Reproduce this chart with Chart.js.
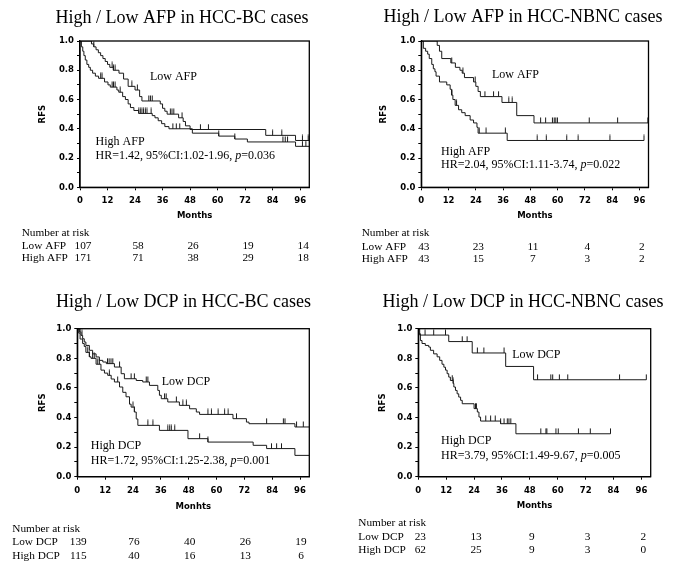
<!DOCTYPE html>
<html><head><meta charset="utf-8">
<script src="https://cdn.jsdelivr.net/npm/chart.js@4/dist/chart.umd.min.js"></script>
<style>
html,body{margin:0;padding:0;background:#fff;}
#wrap{position:relative;width:677px;height:567px;overflow:hidden;}
canvas{position:absolute;left:0;top:0;}
</style></head><body>
<div id="wrap">
<canvas id="c1" width="677" height="567"></canvas>
<canvas id="c2" width="677" height="567"></canvas>
<canvas id="c3" width="677" height="567"></canvas>
<canvas id="c4" width="677" height="567"></canvas>
</div>
<script>
// ---------- tick labels ----------
const monthTicks = [0,12,24,36,48,60,72,84,96];
const rfsTicks = [0,0.1,0.2,0.3,0.4,0.5,0.6,0.7,0.8,0.9,1.0];
const rfsLabels = ['0.0','','0.2','','0.4','','0.6','','0.8','','1.0'];
const riskMonths = [0,24,48,72,96];

// ---------- Panel 1: AFP, HCC-BC ----------
const afpBcLow = [[0,1],[5,0.98],[6,0.96],[7,0.94],[8,0.92],[9,0.90],[10,0.88],[11,0.86],[12,0.84],[13,0.82],[14.5,0.80],[17,0.78],[19,0.74],[21,0.69],[24,0.665],[26,0.62],[27,0.59],[35,0.57],[36,0.54],[37,0.52],[38,0.50],[43,0.475],[45,0.45],[46,0.42],[48,0.395],[81,0.355],[94,0.32],[100,0.32]];
const afpBcLowCens = [6,14,14.6,15.3,22.6,25,30,30.7,31.5,39.4,40.1,40.9,44.5,52.5,56,84,88,97,99.5];
const afpBcHigh = [[0,1],[0.6,0.96],[1.2,0.93],[1.7,0.90],[2.3,0.87],[3,0.84],[3.8,0.82],[4.5,0.80],[5.5,0.78],[6.7,0.76],[8.1,0.745],[10.7,0.72],[12.2,0.70],[13.2,0.685],[16.1,0.665],[16.9,0.65],[18.6,0.62],[19.8,0.60],[21,0.57],[22,0.545],[23.5,0.525],[25.6,0.505],[31.5,0.49],[32.7,0.475],[34.1,0.455],[35.6,0.435],[37,0.415],[38.8,0.40],[49,0.37],[60.5,0.35],[67.5,0.33],[73,0.31],[94,0.28],[100,0.28]];
const afpBcHighCens = [9,9.6,14,14.6,15.3,17.5,25.6,26.3,27,27.7,28.5,29.2,31,40.5,42,43.5,60.5,67.5,88.5,89.5,90.5,97,98.5];
const afpBcLowRisk = [107,58,26,19,14];
const afpBcHighRisk = [171,71,38,29,18];

// ---------- Panel 2: AFP, HCC-NBNC ----------
const afpNbLow = [[0,1],[7,0.97],[8,0.93],[9,0.88],[13,0.85],[15,0.82],[17,0.80],[18,0.78],[19,0.75],[23,0.72],[24,0.69],[25,0.655],[26,0.62],[35.5,0.58],[42,0.49],[49.6,0.44],[100,0.44]];
const afpNbLowCens = [13.4,18.3,23.7,28,31.8,34,38.5,40,52.5,54.7,57.7,58.5,59.2,59.9,73.9,86.4,99.7];
const afpNbHigh = [[0,1],[0.9,0.95],[1.9,0.93],[2.8,0.91],[3.5,0.88],[4.6,0.84],[5.3,0.81],[6,0.79],[6.5,0.76],[8,0.72],[11.2,0.70],[12.7,0.67],[13.3,0.63],[13.9,0.60],[14.9,0.56],[16.4,0.53],[17.8,0.51],[19.3,0.49],[21.5,0.46],[23,0.44],[24.5,0.41],[25,0.37],[37.8,0.32],[98,0.32]];
const afpNbHighCens = [13.5,15.5,25.5,28.5,37,51,55,64,69,83,98];
const afpNbLowRisk = [43,23,11,4,2];
const afpNbHighRisk = [43,15,7,3,2];

// ---------- Panel 3: DCP, HCC-BC ----------
const dcpBcLow = [[0,1],[0.9,0.977],[1.6,0.955],[2.3,0.932],[3,0.91],[3.7,0.887],[5.2,0.854],[6.6,0.83],[8.1,0.809],[9.5,0.786],[11,0.775],[12.5,0.764],[16,0.741],[18.9,0.696],[20.3,0.662],[25.4,0.65],[28.2,0.64],[31.1,0.617],[34.7,0.583],[35.4,0.55],[36.2,0.527],[39,0.505],[44,0.482],[48.4,0.459],[51.3,0.437],[52.7,0.421],[67.1,0.392],[72.9,0.369],[74,0.358],[93.8,0.336],[100,0.336]];
const dcpBcLowCens = [0.5,1.2,2,13,13.7,14.5,15.3,18.2,23.2,24.6,29.7,30.4,37.6,38.3,42.7,45.5,47,56.3,57.8,60.7,63.5,65,68.6,81.6,88.8,89.5,94.5,97.4];
const dcpBcHigh = [[0,1],[0.6,0.97],[1.2,0.93],[2.3,0.90],[3,0.88],[3.7,0.84],[5.2,0.81],[5.9,0.80],[8.1,0.76],[10.2,0.72],[11.7,0.70],[13.1,0.685],[14.6,0.66],[16,0.64],[18.2,0.606],[19.6,0.57],[21,0.54],[22.5,0.49],[23.2,0.47],[24.6,0.437],[25.4,0.39],[26.1,0.347],[35.4,0.313],[47.7,0.257],[56.3,0.234],[75.8,0.212],[81.6,0.19],[93.8,0.144],[100,0.144]];
const dcpBcHighCens = [4.5,5.2,6.6,7.3,8.8,9.5,13.8,17.4,24,24.6,30.4,32.6,39,39.8,40.5,42,52.7,56.3,83.7,85.9,88];
const dcpBcLowRisk = [139,76,40,26,19];
const dcpBcHighRisk = [115,40,16,13,6];

// ---------- Panel 4: DCP, HCC-NBNC ----------
const dcpNbLow = [[0,1],[0.6,0.957],[13.1,0.913],[23.2,0.836],[37.6,0.745],[49.6,0.655],[98.1,0.655]];
const dcpNbLowCens = [2.9,6.6,11.7,18.9,21,25.4,28.2,36.9,51.3,57,57.8,60.7,64.3,86.6,98.1];
const dcpNbHigh = [[0,1],[0.3,0.966],[0.9,0.92],[1.6,0.90],[3,0.887],[4.5,0.876],[5.2,0.854],[6.6,0.83],[8.1,0.81],[9.2,0.786],[10.2,0.76],[11,0.74],[11.7,0.72],[12.4,0.696],[13.1,0.673],[13.8,0.65],[15,0.63],[15.3,0.606],[16,0.583],[16.7,0.56],[17.4,0.538],[18.2,0.516],[18.9,0.493],[24,0.46],[25.4,0.437],[26.1,0.403],[26.8,0.376],[35.4,0.358],[42,0.29],[82.7,0.29]];
const dcpNbHighCens = [14.6,15,24.6,25,29,31.1,33.1,35.4,36.9,38.3,39,39.8,52.7,54.9,55.3,59.2,60.2,68.9,74,82.7];
const dcpNbLowRisk = [23,13,9,3,2];
const dcpNbHighRisk = [62,25,9,3,0];

// ---------- texts ----------
const titles = ['High / Low AFP in HCC-BC cases','High / Low AFP in HCC-NBNC cases','High / Low DCP in HCC-BC cases','High / Low DCP in HCC-NBNC cases'];
const xTitles = ['Months','Months','Monhts','Months'];
const hrTexts = [['HR=1.42, 95%CI:1.02-1.96, ','=0.036'],['HR=2.04, 95%CI:1.11-3.74, ','=0.022'],['HR=1.72, 95%CI:1.25-2.38, ','=0.001'],['HR=3.79, 95%CI:1.49-9.67, ','=0.005']];

// ---------- helpers ----------
function survAt(steps, t){ let v = steps[0][1]; for (const [x,y] of steps){ if (x <= t + 1e-9) v = y; else break; } return v; }
function censorMark(){ const c=document.createElement('canvas'); c.width=3; c.height=12; const g=c.getContext('2d'); g.strokeStyle='#1a1a1a'; g.lineWidth=1; g.beginPath(); g.moveTo(1.5,0.5); g.lineTo(1.5,6); g.stroke(); return c; }
const mark = censorMark();
const axisFont = {family:'"DejaVu Sans"', size:8.5, weight:'bold', lineHeight:1.2};
const SERIF = '"Liberation Serif", "Times New Roman", serif';

const framePlugin = {id:'frame', afterDatasetsDraw(chart){ const a=chart.chartArea, c=chart.ctx; c.save(); c.strokeStyle='#000'; c.lineWidth=1.3; c.strokeRect(a.left,a.top,a.right-a.left,a.bottom-a.top); c.restore(); }};

function textPlugin(p){ return {id:'texts', afterDraw(chart){
  const c=chart.ctx, xs=chart.scales.x, ys=chart.scales.y;
  c.save(); c.fillStyle='#000'; c.textBaseline='middle';
  c.font='18px '+SERIF; c.textAlign='center'; c.fillText(p.title, p.titlePos[0], p.titlePos[1]);
  c.font='12px '+SERIF; c.textAlign='left';
  p.labels.forEach(l=>c.fillText(l.text, xs.getPixelForValue(l.t), ys.getPixelForValue(l.s)));
  let x=xs.getPixelForValue(p.hr.t), y=ys.getPixelForValue(p.hr.s);
  c.fillText(p.hr.a,x,y); x+=c.measureText(p.hr.a).width;
  c.font='italic 12px '+SERIF; c.fillText('p',x,y); x+=c.measureText('p').width;
  c.font='12px '+SERIF; c.fillText(p.hr.b,x,y);
  c.font='11.3px '+SERIF; c.textAlign='left';
  c.fillText('Number at risk', p.risk.x, p.risk.y0);
  p.risk.rows.forEach((r,i)=>{
    c.textAlign='left'; c.fillText(r.name, p.risk.x, p.risk.ys[i]);
    c.textAlign='center';
    r.vals.forEach((v,j)=>c.fillText(String(v), xs.getPixelForValue(riskMonths[j])+p.risk.dx, p.risk.ys[i]));
  });
  c.restore();
}}; }

function buildPanel(id, p){
  const datasets=[];
  p.curves.forEach(cv=>{
    datasets.push({type:'line', data:cv.steps.map(([x,y])=>({x,y})), stepped:true, borderColor:'#1a1a1a', borderWidth:1, pointRadius:0, fill:false, order:1});
    datasets.push({type:'scatter', data:cv.cens.map(t=>({x:t,y:survAt(cv.steps,t)})), pointStyle:mark, pointRadius:3, showLine:false, order:0});
  });
  new Chart(document.getElementById(id), {
    type:'scatter',
    data:{datasets},
    options:{
      responsive:false, animation:false, events:[], devicePixelRatio:1,
      layout:{padding:{left:p.box.left-p.yw, right:677-p.box.right, top:p.box.top, bottom:567-p.box.bottom-p.xh}},
      plugins:{legend:{display:false}, tooltip:{enabled:false}, title:{display:false}},
      scales:{
        x:{type:'linear', position:'bottom', min:0, max:100,
          afterFit(s){ s.height=p.xh; },
          afterBuildTicks(s){ s.ticks=monthTicks.map(v=>({value:v})); },
          ticks:{font:axisFont, color:'#000', padding:5.5, autoSkip:false, maxRotation:0, callback:(v)=>String(v)},
          grid:{drawOnChartArea:false, drawTicks:true, tickLength:3, color:'#000'},
          border:{display:true, color:'#000', width:1.3},
          title:{display:true, text:p.xTitle, font:axisFont, color:'#000', padding:0}},
        y:{type:'linear', position:'left', min:0, max:1,
          afterFit(s){ s.width=p.yw; },
          afterBuildTicks(s){ s.ticks=rfsTicks.map(v=>({value:v})); },
          ticks:{font:axisFont, color:'#000', padding:3, autoSkip:false, callback:(v,i)=>rfsLabels[i]},
          grid:{drawOnChartArea:false, drawTicks:true, tickLength:3, color:'#000'},
          border:{display:true, color:'#000', width:1.3},
          title:{display:true, text:'RFS', font:axisFont, color:'#000', padding:0}}
      }
    },
    plugins:[framePlugin, textPlugin(p)]
  });
}

buildPanel('c1', {
  box:{left:80, right:309.3, top:41, bottom:187.3}, yw:42.1, xh:33.8, xTitle:xTitles[0],
  title:titles[0], titlePos:[182,18],
  curves:[{steps:afpBcLow, cens:afpBcLowCens},{steps:afpBcHigh, cens:afpBcHighCens}],
  labels:[{text:'Low AFP', t:30.5, s:0.754},{text:'High AFP', t:6.8, s:0.312}],
  hr:{a:hrTexts[0][0], b:hrTexts[0][1], t:6.8, s:0.214},
  risk:{x:21.7, y0:232.7, ys:[246,258.3], dx:3, rows:[{name:'Low AFP', vals:afpBcLowRisk},{name:'High AFP', vals:afpBcHighRisk}]}
});
buildPanel('c2', {
  box:{left:421.3, right:648.5, top:41, bottom:187.3}, yw:43.1, xh:33.8, xTitle:xTitles[1],
  title:titles[1], titlePos:[523,17.5],
  curves:[{steps:afpNbLow, cens:afpNbLowCens},{steps:afpNbHigh, cens:afpNbHighCens}],
  labels:[{text:'Low AFP', t:31.1, s:0.768},{text:'High AFP', t:8.7, s:0.243}],
  hr:{a:hrTexts[1][0], b:hrTexts[1][1], t:8.7, s:0.152},
  risk:{x:361.7, y0:233.3, ys:[246.7,259.3], dx:2.5, rows:[{name:'Low AFP', vals:afpNbLowRisk},{name:'High AFP', vals:afpNbHighRisk}]}
});
buildPanel('c3', {
  box:{left:77.3, right:309.3, top:328.7, bottom:476.7}, yw:39.4, xh:35.1, xTitle:xTitles[2],
  title:titles[2], titlePos:[183.5,302.7],
  curves:[{steps:dcpBcLow, cens:dcpBcLowCens},{steps:dcpBcHigh, cens:dcpBcHighCens}],
  labels:[{text:'Low DCP', t:36.4, s:0.642},{text:'High DCP', t:5.8, s:0.209}],
  hr:{a:hrTexts[2][0], b:hrTexts[2][1], t:5.8, s:0.106},
  risk:{x:12.3, y0:529.3, ys:[542.3,555.7], dx:1, rows:[{name:'Low DCP', vals:dcpBcLowRisk},{name:'High DCP', vals:dcpBcHighRisk}]}
});
buildPanel('c4', {
  box:{left:418.3, right:650.7, top:328.7, bottom:476.7}, yw:40.7, xh:34.4, xTitle:xTitles[3],
  title:titles[3], titlePos:[523,302.7],
  curves:[{steps:dcpNbLow, cens:dcpNbLowCens},{steps:dcpNbHigh, cens:dcpNbHighCens}],
  labels:[{text:'Low DCP', t:40.4, s:0.822},{text:'High DCP', t:9.8, s:0.243}],
  hr:{a:hrTexts[3][0], b:hrTexts[3][1], t:9.8, s:0.142},
  risk:{x:358.3, y0:523.3, ys:[536.7,550], dx:2, rows:[{name:'Low DCP', vals:dcpNbLowRisk},{name:'High DCP', vals:dcpNbHighRisk}]}
});
</script>
</body></html>
